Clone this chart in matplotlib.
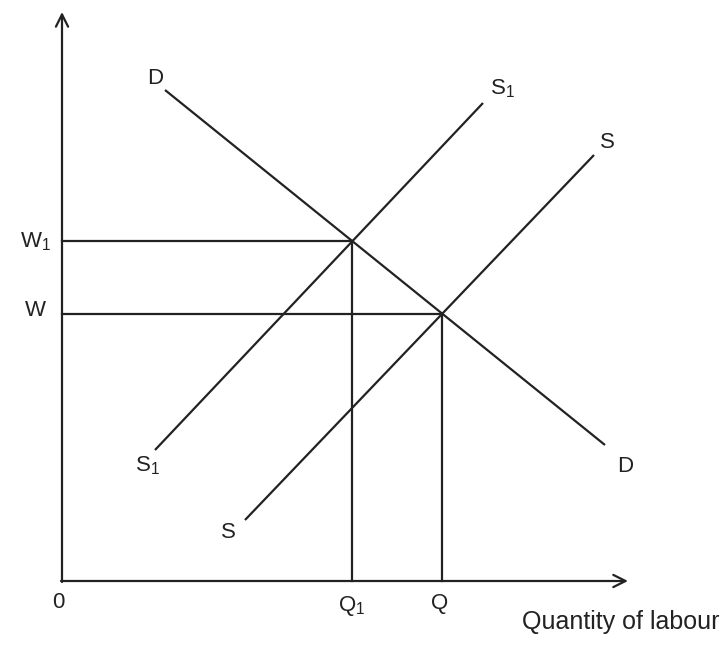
import matplotlib.pyplot as plt
import numpy as np

plt.rcParams['font.family'] = ['Liberation Sans', 'DejaVu Sans']
plt.rcParams['mathtext.fontset'] = 'custom'
plt.rcParams['mathtext.rm'] = 'Liberation Sans'
plt.rcParams['mathtext.default'] = 'regular'

# curve endpoints (quantity, wage)
demand = np.array([[1.03, 4.91], [5.43, 1.36]])
supply1 = np.array([[0.93, 1.31], [4.21, 4.78]])
supply = np.array([[1.83, 0.61], [5.32, 4.26]])

axis_len_x = 5.66
axis_len_y = 5.69


def cross(a, b):
    # intersection of two straight lines given by endpoints
    ma = (a[1, 1] - a[0, 1]) / (a[1, 0] - a[0, 0])
    mb = (b[1, 1] - b[0, 1]) / (b[1, 0] - b[0, 0])
    x = (b[0, 1] - a[0, 1] + ma * a[0, 0] - mb * b[0, 0]) / (ma - mb)
    return x, a[0, 1] + ma * (x - a[0, 0])


q1, w1 = cross(demand, supply1)
q, w = cross(demand, supply)

fig = plt.figure(figsize=(7.28, 6.46), dpi=100)
ax = fig.add_axes([0, 0, 1, 1])
ax.set_xlim(-0.62, 6.66)
ax.set_ylim(-0.65, 5.81)
ax.axis('off')

col = '#222222'
lw = 1.6

# axes with open arrowheads
ax.annotate('', xy=(0, axis_len_y), xytext=(0, -0.01),
            arrowprops=dict(arrowstyle='->', color=col, lw=lw, mutation_scale=22, shrinkA=0, shrinkB=0))
ax.annotate('', xy=(axis_len_x, 0), xytext=(-0.01, 0),
            arrowprops=dict(arrowstyle='->', color=col, lw=lw, mutation_scale=22, shrinkA=0, shrinkB=0))

for c in [demand, supply1, supply]:
    ax.plot(c[:, 0], c[:, 1], color=col, lw=lw, solid_capstyle='butt')

# wage and quantity guide lines
ax.plot([0, q1], [w1, w1], color=col, lw=lw)
ax.plot([0, q], [w, w], color=col, lw=lw)
ax.plot([q1, q1], [w1, 0], color=col, lw=lw)
ax.plot([q, q], [w, 0], color=col, lw=lw)

fs = 16
labels = [
    ('D', 0.93, 5.03), ('D', 5.63, 1.15),
    ('S$_1$', 4.40, 4.92), ('S$_1$', 0.85, 1.15),
    ('S', 5.45, 4.38), ('S', 1.66, 0.48),
    ('W$_1$', -0.27, 3.39), ('W', -0.27, 2.71),
    ('0', -0.04, -0.22), ('Q$_1$', 2.90, -0.25), ('Q', 3.78, -0.23),
]
for t, x, y in labels:
    ax.text(x, y, t, fontsize=fs, ha='center', va='center', color=col)

ax.text(6.58, -0.41, 'Quantity of labour', fontsize=18, ha='right', va='center', color=col)

plt.savefig('out.png', dpi=100, facecolor='white')
